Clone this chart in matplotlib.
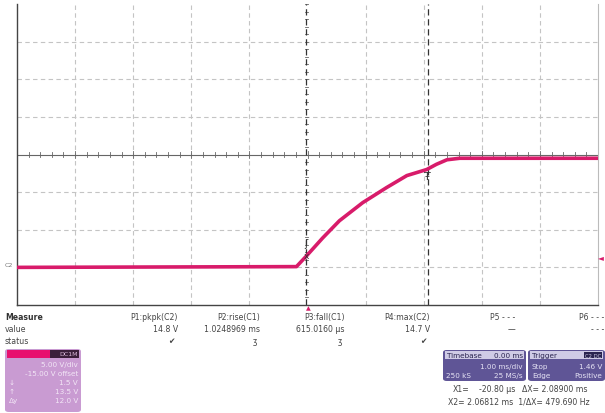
#!/usr/bin/env python3
"""Scope capture: C2 soft-start ramp, 5 V/div, 1 ms/div."""
import matplotlib
matplotlib.use("Agg")
import matplotlib.pyplot as plt
from matplotlib.patches import FancyBboxPatch, Rectangle

# trace (ms, V)
time_ms = [-5.0, -0.19, -0.02, 0.26, 0.55, 0.95, 1.36, 1.71, 2.05, 2.22, 2.40, 2.62, 5.0]
volts = [0.0, 0.1, 1.5, 3.9, 6.2, 8.6, 10.6, 12.2, 13.0, 13.7, 14.3, 14.5, 14.5]

x1_ms = -0.0208
x2_ms = 2.06812
trig_v = 1.46

meas_names = ["P1:pkpk(C2)", "P2:rise(C1)", "P3:fall(C1)", "P4:max(C2)", "P5 - - -", "P6 - - -"]
meas_values = ["14.8 V", "1.0248969 ms", "615.0160 \u00b5s", "14.7 V", "\u2014", "- - -"]
meas_status = ["\u2714", "\u0292", "\u0292", "\u2714", "", ""]
meas_right = [178, 260, 345, 430, 515, 604]

PINK = "#d81b6a"
GRID = "#c4c4c4"

fig = plt.figure(figsize=(6.05, 4.14), dpi=100)
W, H = 605, 414


def fx(px):
    return px / W


def fy(py):
    return 1 - py / H


ax = fig.add_axes([fx(17), fy(306), fx(598) - fx(17), fy(5) - fy(306)])
ax.set_xlim(-5, 5)
ax.set_ylim(-5, 35)

# graticule
for i in range(-4, 5):
    if i == 0:
        continue
    ax.axvline(i, color=GRID, lw=0.8, ls=(0, (4, 3)), zorder=1)
for j in range(-3, 4):
    if j == 0:
        continue
    ax.axhline(15 + j * 5, color=GRID, lw=0.8, ls=(0, (4, 3)), zorder=1)
ax.axhline(15, color="#666666", lw=0.8, zorder=1)
for k in range(-25, 26):
    t = k * 0.2
    h = 0.3 if k % 5 else 0.5
    ax.plot([t, t], [15 - h, 15 + h], color="#666666", lw=0.6, zorder=1)
for k in range(-20, 21):
    v = 15 + k * 1.0
    ax.plot([x1_ms - 0.03, x1_ms + 0.03], [v, v], color="#666666", lw=0.6, zorder=1)

# cursors
ax.axvline(x1_ms, color="#333333", lw=0.9, ls=(0, (5, 3)), zorder=2)
ax.axvline(x2_ms, color="#333333", lw=0.9, ls=(0, (5, 3)), zorder=2)

ax.plot(time_ms, volts, color=PINK, lw=2.6, solid_capstyle="butt", zorder=3)

ax.text(x1_ms, 1.6, "x", ha="center", va="center", fontsize=6.5, color="#333333", zorder=4)
ax.text(x1_ms, 3.3, "\u0283", ha="center", va="center", fontsize=7, color="#333333", zorder=4)
ax.text(x2_ms, 12.2, "\u0166", ha="center", va="center", fontsize=8, color="#333333", zorder=4)

ax.spines["top"].set_visible(False)
ax.spines["right"].set_color("#bbbbbb")
ax.spines["right"].set_linewidth(0.8)
for s in ["left", "bottom"]:
    ax.spines[s].set_color("#444444")
    ax.spines[s].set_linewidth(1.0)
ax.set_xticks([])
ax.set_yticks([])

# markers outside the grid
fig.text(fx(9), fy(266), "C2", fontsize=4.5, color="#777777", ha="center", va="center")
fig.text(fx(601), fy(258), "\u25c4", fontsize=5.5, color=PINK, ha="center", va="center")
fig.text(fx(308), fy(309), "\u25b2", fontsize=4.5, color=PINK, ha="center", va="center")

# measurement table
fs = 5.6
tc = "#444444"
fig.text(fx(5), fy(318), "Measure", fontsize=fs, weight="bold", color="#333333", va="center")
fig.text(fx(5), fy(330), "value", fontsize=fs, color=tc, va="center")
fig.text(fx(5), fy(342), "status", fontsize=fs, color=tc, va="center")
for name, val, st, xr in zip(meas_names, meas_values, meas_status, meas_right):
    fig.text(fx(xr), fy(318), name, fontsize=fs, color=tc, ha="right", va="center")
    fig.text(fx(xr), fy(330), val, fontsize=fs, color=tc, ha="right", va="center")
    if st:
        fig.text(fx(xr - 3), fy(342), st, fontsize=fs, color=tc, ha="right", va="center")


def box(x0, y0, x1, y1, color):
    p = FancyBboxPatch((fx(x0), fy(y1)), fx(x1) - fx(x0), fy(y0) - fy(y1),
                       boxstyle="round,pad=0,rounding_size=0.006",
                       transform=fig.transFigure, fc=color, ec="none")
    fig.patches.append(p)


def rect(x0, y0, x1, y1, color):
    fig.patches.append(Rectangle((fx(x0), fy(y1)), fx(x1) - fx(x0), fy(y0) - fy(y1),
                                 transform=fig.transFigure, fc=color, ec="none"))


# channel box
box(5, 350, 81, 413, "#c99bd2")
rect(7, 351, 50, 359, "#e8106f")
rect(50, 351, 79, 359, "#3a1f3a")
fig.text(fx(78), fy(355), "DC1M", fontsize=4.5, color="#d9b8d9", ha="right", va="center")
fs2 = 5.2
wc = "#f2e6f6"
fig.text(fx(78), fy(365), "5.00 V/div", fontsize=fs2, color=wc, ha="right", va="center")
fig.text(fx(78), fy(374), "-15.00 V offset", fontsize=fs2, color=wc, ha="right", va="center")
rows = [("\u2193", "1.5 V"), ("\u2191", "13.5 V"), ("\u0394y", "12.0 V")]
for r, (lab, val) in enumerate(rows):
    yy = 383 + r * 9
    fig.text(fx(9), fy(yy), lab, fontsize=fs2, color=wc, ha="left", va="center")
    fig.text(fx(78), fy(yy), val, fontsize=fs2, color=wc, ha="right", va="center")

# timebase / trigger boxes
box(443, 351, 526, 382, "#5f5596")
box(528, 351, 605, 382, "#5f5596")
rect(445, 352, 524, 360, "#cfcbe6")
rect(530, 352, 603, 360, "#cfcbe6")
dk = "#2a2450"
fig.text(fx(447), fy(356), "Timebase", fontsize=fs2, color=dk, va="center")
fig.text(fx(523), fy(356), "0.00 ms", fontsize=fs2, color=dk, ha="right", va="center")
fig.text(fx(532), fy(356), "Trigger", fontsize=fs2, color=dk, va="center")
rect(584, 353, 602, 359, "#2a2450")
fig.text(fx(593), fy(356), "C2 DC", fontsize=3.8, color="#cfcbe6", ha="center", va="center")
lc = "#e6e3f5"
fig.text(fx(523), fy(367), "1.00 ms/div", fontsize=fs2, color=lc, ha="right", va="center")
fig.text(fx(446), fy(376), "250 kS", fontsize=fs2, color=lc, va="center")
fig.text(fx(523), fy(376), "25 MS/s", fontsize=fs2, color=lc, ha="right", va="center")
fig.text(fx(532), fy(367), "Stop", fontsize=fs2, color=lc, va="center")
fig.text(fx(602), fy(367), "%.2f V" % trig_v, fontsize=fs2, color=lc, ha="right", va="center")
fig.text(fx(532), fy(376), "Edge", fontsize=fs2, color=lc, va="center")
fig.text(fx(602), fy(376), "Positive", fontsize=fs2, color=lc, ha="right", va="center")

# cursor readout
fig.text(fx(453), fy(390), "X1=", fontsize=fs, color=tc, va="center")
fig.text(fx(515), fy(390), "-20.80 \u00b5s", fontsize=fs, color=tc, ha="right", va="center")
fig.text(fx(522), fy(390), "\u0394X= 2.08900 ms", fontsize=fs, color=tc, va="center")
fig.text(fx(448), fy(402), "X2= 2.06812 ms  1/\u0394X= 479.690 Hz", fontsize=fs, color=tc, va="center")

fig.savefig("out.png", dpi=100)
